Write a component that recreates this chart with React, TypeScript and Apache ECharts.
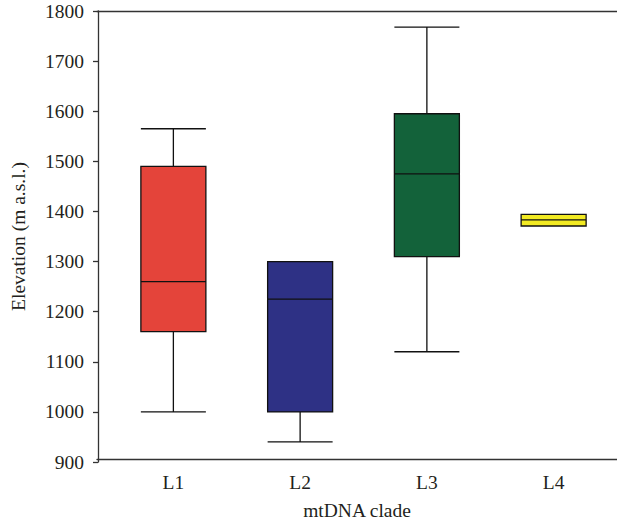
import React, { useEffect, useRef } from "react";
import * as echarts from "echarts";

const categories = ["L1", "L2", "L3", "L4"];
// [min, Q1, median, Q3, max]
const boxValues = [
  [1000, 1160, 1260, 1490, 1565],
  [940, 1000, 1225, 1300, 1300],
  [1120, 1310, 1475, 1595, 1768],
  [1371, 1371, 1383, 1394, 1394],
];
const boxColors = ["#E4443A", "#2E3185", "#13623A", "#F2EA22"];
const yTicks = { min: 900, max: 1800, interval: 100 };

const FONT = "Liberation Serif";
const INK = "#231F20";
const FS = 19.5;

export default function App() {
  const ref = useRef<HTMLDivElement>(null);
  useEffect(() => {
    document.body.style.margin = "0";
    const chart = echarts.init(ref.current!, null, { renderer: "svg" });
    chart.setOption({
      animation: false,
      backgroundColor: "#ffffff",
      grid: [
        { left: 109, right: -4, top: 11, bottom: 63 },
        { left: 97, right: 0, top: 11, bottom: 63 },
      ],
      xAxis: [
        {
          type: "category",
          gridIndex: 0,
          data: categories,
          boundaryGap: true,
          axisLine: { show: false },
          axisTick: { show: false },
          axisLabel: { color: INK, fontFamily: FONT, fontSize: FS, margin: 10 },
        },
        {
          type: "value",
          gridIndex: 1,
          position: "bottom",
          min: 0,
          max: 1,
          axisLine: { show: true, lineStyle: { color: "#333", width: 1.3 } },
          axisTick: { show: false },
          axisLabel: { show: false },
          splitLine: { show: false },
          name: "mtDNA clade",
          nameLocation: "middle",
          nameGap: 41,
          nameTextStyle: { color: INK, fontFamily: FONT, fontSize: FS },
        },
        {
          type: "value",
          gridIndex: 1,
          position: "top",
          min: 0,
          max: 1,
          axisLine: { show: true, lineStyle: { color: "#333", width: 1.3 } },
          axisTick: { show: false },
          axisLabel: { show: false },
          splitLine: { show: false },
        },
      ],
      yAxis: [
        {
          type: "value",
          gridIndex: 0,
          offset: 12,
          min: yTicks.min,
          max: yTicks.max,
          interval: yTicks.interval,
          axisLine: { show: true, lineStyle: { color: "#333", width: 1.3 } },
          axisTick: { show: true, length: 5, lineStyle: { color: "#333", width: 1.3 } },
          axisLabel: {
            color: INK,
            fontFamily: FONT,
            fontSize: FS,
            margin: 14,
            formatter: (v: number) => String(v),
          },
          splitLine: { show: false },
          name: "Elevation (m a.s.l.)",
          nameLocation: "middle",
          nameGap: 70,
          nameTextStyle: { color: INK, fontFamily: FONT, fontSize: FS },
        },
        {
          type: "value",
          gridIndex: 1,
          min: 0,
          max: 1,
          show: false,
        },
      ],
      series: [
        {
          type: "boxplot",
          xAxisIndex: 0,
          yAxisIndex: 0,
          boxWidth: [65, 65],
          data: boxValues.map((v, i) => ({
            value: v,
            itemStyle: { color: boxColors[i], borderColor: "#111", borderWidth: 1.3 },
          })),
        },
      ],
    });
    return () => chart.dispose();
  }, []);
  return <div ref={ref} style={{ width: 617, height: 525 }} />;
}
